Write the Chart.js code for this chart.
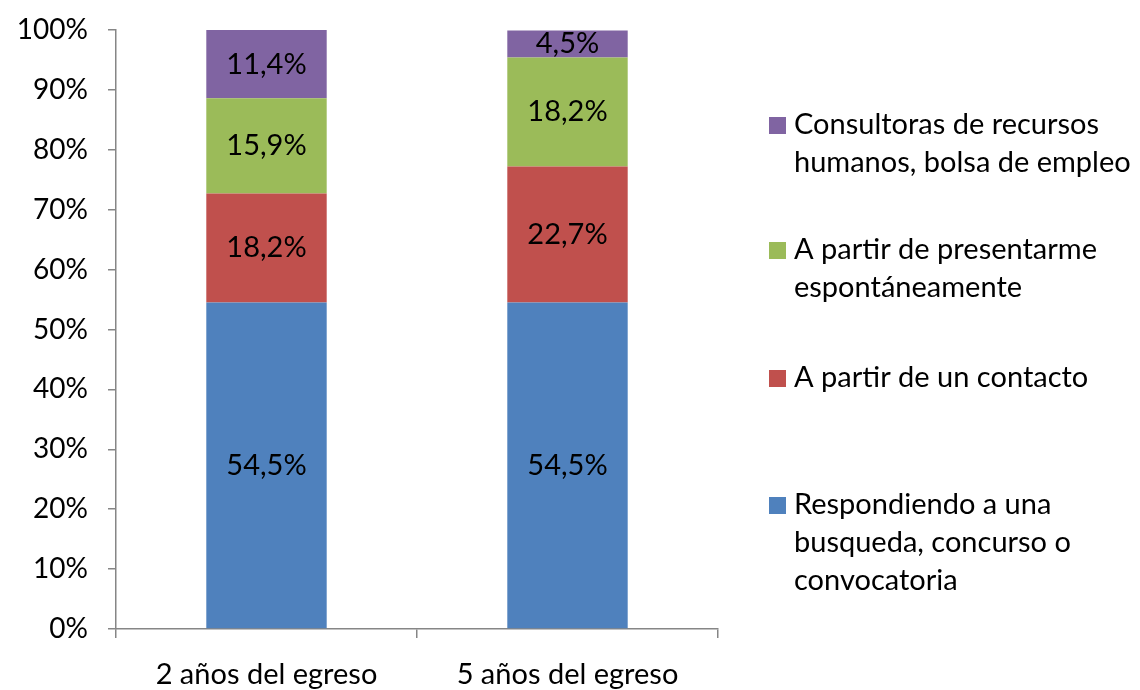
<!DOCTYPE html>
<html>
<head>
<meta charset="utf-8">
<script src="https://cdn.jsdelivr.net/npm/chart.js@4"></script>
<style>
  html, body { margin: 0; padding: 0; background: #fff; }
  #wrap { width: 1140px; height: 690px; }
</style>
</head>
<body>
<div id="wrap"><canvas id="chart" width="1140" height="690"></canvas></div>
<script>
const categories = ["2 años del egreso", "5 años del egreso"];
const respondiendo = [54.5, 54.5];
const contacto = [18.2, 22.7];
const espontaneo = [15.9, 18.2];
const consultoras = [11.4, 4.5];
const yTicks = [0, 10, 20, 30, 40, 50, 60, 70, 80, 90, 100];

const FONT = "Lato";
const axisGray = "#868686";

function pct(v) {
  return v.toFixed(1).replace(".", ",") + "%";
}

// labels inside each segment
const segmentLabels = {
  id: "segmentLabels",
  afterDatasetsDraw(chart) {
    const ctx = chart.ctx;
    ctx.save();
    ctx.font = "29px " + FONT;
    ctx.fillStyle = "#000";
    ctx.textAlign = "center";
    ctx.textBaseline = "middle";
    chart.data.datasets.forEach((ds, i) => {
      chart.getDatasetMeta(i).data.forEach((bar, j) => {
        const p = bar.getProps(["x", "y", "base"], true);
        ctx.fillText(pct(ds.data[j]), p.x, (p.y + p.base) / 2);
      });
    });
    ctx.restore();
  }
};

// legend on the right, with wrapped lines
const sideLegend = {
  id: "sideLegend",
  afterDraw(chart) {
    const ctx = chart.ctx;
    const tops = [125, 250, 378, 505];
    const lineH = 38;
    ctx.save();
    ctx.font = "29px " + FONT;
    ctx.textBaseline = "middle";
    ctx.textAlign = "left";
    const order = [3, 2, 1, 0];
    order.forEach((di, k) => {
      const ds = chart.data.datasets[di];
      ctx.fillStyle = ds.backgroundColor;
      ctx.fillRect(769, tops[k] - 8, 17, 17);
      ctx.fillStyle = "#000";
      ds.legendLines.forEach((line, n) => {
        ctx.fillText(line, 794, tops[k] + n * lineH);
      });
    });
    ctx.restore();
  }
};

new Chart(document.getElementById("chart"), {
  type: "bar",
  data: {
    labels: categories,
    datasets: [
      { label: "Respondiendo a una busqueda, concurso o convocatoria",
        legendLines: ["Respondiendo a una", "busqueda, concurso o", "convocatoria"],
        data: respondiendo, backgroundColor: "#4F81BD" },
      { label: "A partir de un contacto",
        legendLines: ["A partir de un contacto"],
        data: contacto, backgroundColor: "#C0504D" },
      { label: "A partir de presentarme espontáneamente",
        legendLines: ["A partir de presentarme", "espontáneamente"],
        data: espontaneo, backgroundColor: "#9BBB59" },
      { label: "Consultoras de recursos humanos, bolsa de empleo",
        legendLines: ["Consultoras de recursos", "humanos, bolsa de empleo"],
        data: consultoras, backgroundColor: "#8064A2" }
    ]
  },
  options: {
    responsive: false,
    animation: false,
    layout: { padding: { top: 30, right: 422, left: 0, bottom: 0 } },
    datasets: {
      bar: { categoryPercentage: 1, barPercentage: 0.4 }
    },
    plugins: {
      legend: { display: false },
      tooltip: { enabled: false }
    },
    scales: {
      x: {
        stacked: true,
        afterFit(scale) { scale.height = 61; scale.paddingLeft = 0; scale.paddingRight = 0; },
        border: { display: true, color: axisGray, width: 1.5 },
        grid: { offset: true, drawOnChartArea: false, drawTicks: true, tickLength: 9, color: axisGray, lineWidth: 1.5 },
        ticks: { color: "#000", font: { family: FONT, size: 29 }, padding: 19 }
      },
      y: {
        stacked: true,
        min: 0,
        max: 100,
        afterFit(scale) { scale.width = 116; scale.paddingTop = 0; scale.paddingBottom = 0; },
        afterBuildTicks(scale) { scale.ticks = yTicks.map(v => ({ value: v })); },
        border: { display: true, color: axisGray, width: 1.5 },
        grid: { drawOnChartArea: false, drawTicks: true, tickLength: 8, color: axisGray, lineWidth: 1.5 },
        ticks: {
          color: "#000",
          font: { family: FONT, size: 28 },
          padding: 20,
          callback: v => v + "%"
        }
      }
    }
  },
  plugins: [segmentLabels, sideLegend]
});
</script>
</body>
</html>
